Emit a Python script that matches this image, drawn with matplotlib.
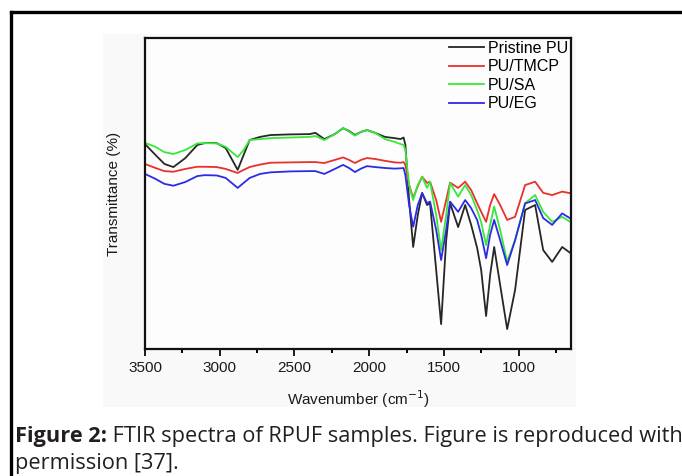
import matplotlib
matplotlib.use("Agg")
import matplotlib.pyplot as plt
from matplotlib.lines import Line2D
from matplotlib.patches import Rectangle
from matplotlib.ticker import MultipleLocator

# ---------------- data ----------------
wavenumber = [3500, 3430, 3370, 3310, 3230, 3150, 3100, 3020, 2960, 2880,
              2840, 2800, 2730, 2660, 2530, 2400, 2360, 2300, 2230, 2175,
              2135, 2095, 2055, 2015, 1960, 1895, 1830, 1790, 1770, 1758,
              1733, 1706, 1675, 1646, 1613, 1593, 1552, 1519, 1485, 1459,
              1405, 1358, 1318, 1278, 1251, 1218, 1191, 1164, 1124, 1077,
              1024, 957, 890, 836, 776, 709, 655]

pristine_pu = [65.9, 62.4, 59.5, 58.5, 61.4, 65.6, 66.2, 66.2, 64.6, 57.6,
               62.4, 67.2, 68.2, 68.8, 69.0, 69.1, 69.5, 67.5, 69.1, 71.0,
               70.1, 68.8, 69.8, 70.4, 69.5, 68.2, 67.8, 67.5, 68.0, 65.6,
               47.9, 32.8, 43.1, 50.2, 46.3, 46.9, 25.4, 8.0, 35.0, 46.9,
               39.2, 46.3, 39.9, 32.5, 25.4, 10.6, 23.8, 32.8, 20.6, 6.4,
               19.0, 44.7, 46.3, 31.8, 28.0, 32.8, 30.9]

pu_tmcp = [59.5, 58.2, 57.2, 57.0, 57.9, 58.6, 58.6, 58.5, 57.9, 56.6,
           57.6, 58.5, 59.3, 59.9, 60.0, 60.1, 60.1, 59.8, 60.8, 61.6,
           60.8, 59.8, 60.8, 61.4, 61.1, 60.5, 60.0, 59.9, 60.1, 59.2,
           52.7, 48.6, 52.4, 55.4, 53.4, 53.8, 47.9, 40.9, 47.9, 53.5,
           51.8, 53.8, 51.1, 46.9, 44.1, 40.9, 46.3, 49.8, 46.3, 41.5,
           42.5, 52.7, 53.8, 50.2, 49.5, 50.6, 50.1]

pu_sa = [66.3, 65.0, 63.3, 62.7, 64.0, 66.1, 66.2, 66.1, 65.0, 61.7,
         64.0, 67.2, 67.5, 67.8, 68.0, 68.2, 68.5, 67.2, 69.1, 71.1,
         69.9, 68.6, 69.8, 70.4, 69.5, 67.5, 66.6, 65.9, 65.6, 64.0,
         52.7, 47.9, 52.7, 55.4, 51.8, 53.8, 43.1, 31.8, 43.1, 53.4,
         49.0, 52.7, 49.5, 44.7, 40.8, 33.4, 39.9, 45.8, 38.3, 28.1,
         35.0, 46.9, 49.5, 44.1, 40.9, 42.5, 40.9]

pu_eg = [56.3, 54.7, 53.1, 52.5, 53.7, 55.6, 55.9, 55.8, 55.0, 51.8,
         53.4, 55.0, 56.3, 56.8, 57.1, 57.2, 57.2, 56.3, 57.9, 59.2,
         58.2, 56.9, 58.0, 58.8, 58.5, 58.2, 58.0, 58.1, 58.2, 55.9,
         46.3, 39.3, 46.3, 50.1, 46.9, 47.4, 38.3, 28.6, 38.3, 47.4,
         44.1, 47.9, 45.3, 41.5, 36.7, 29.2, 36.7, 41.5, 35.0, 27.0,
         35.0, 46.8, 47.9, 42.1, 39.9, 43.6, 42.0]

series_names = ["Pristine PU", "PU/TMCP", "PU/SA", "PU/EG"]
x_ticks = [3500, 3000, 2500, 2000, 1500, 1000]
x_label = "Wavenumber (cm$^{-1}$)"
y_label = "Transmittance (%)"
caption_bold = "Figure 2:"
caption_rest = " FTIR spectra of RPUF samples. Figure is reproduced with"
caption_line2 = "permission [37]."

# ---------------- figure ----------------
W, H = 682, 476
fig = plt.figure(figsize=(W / 100, H / 100), dpi=100)
fig.patch.set_facecolor("white")

# faint grey background of the embedded picture
fig.add_artist(Rectangle((103 / W, 1 - 407 / H), (576 - 103) / W, (407 - 34) / H,
                         transform=fig.transFigure, facecolor="#f9f9f9",
                         edgecolor="none", zorder=-5))

# outer frame (left and top lines)
fig.add_artist(Line2D([11 / W, 11 / W], [0, 1 - 12 / H], transform=fig.transFigure,
                      color="black", lw=2.4, solid_capstyle="projecting"))
fig.add_artist(Line2D([11 / W, 1.0], [1 - 12 / H, 1 - 12 / H], transform=fig.transFigure,
                      color="black", lw=2.4, solid_capstyle="projecting"))

ax = fig.add_axes([145 / W, 1 - 349 / H, (571 - 145) / W, (349 - 38) / H])
ax.set_zorder(2)
ax.set_facecolor("#fdfdfd")

colors = ["#262626", "#e8302c", "#38e838", "#2b2be6"]
for vals, name, c in zip([pristine_pu, pu_tmcp, pu_sa, pu_eg], series_names, colors):
    ax.plot(wavenumber, vals, color=c, lw=1.3, label=name)

ax.set_xlim(3500, 650)
ax.set_ylim(0, 100)
ax.set_xticks(x_ticks)
ax.xaxis.set_minor_locator(MultipleLocator(250))
ax.set_yticks([])

lab_font = ["Liberation Sans", "DejaVu Sans"]
for lbl in ax.get_xticklabels():
    lbl.set_fontfamily(lab_font)
    lbl.set_fontsize(11)
ax.tick_params(axis="x", which="major", direction="out", length=5, width=1.4,
               pad=4, colors="#1a1a1a")
ax.tick_params(axis="x", which="minor", direction="out", length=3, width=1.4)
for sp in ax.spines.values():
    sp.set_linewidth(1.6)
    sp.set_color("#111111")

ax.set_xlabel(x_label, fontsize=11, family=lab_font, labelpad=9, color="#1a1a1a")
ax.set_ylabel(y_label, fontsize=11, family=lab_font, labelpad=17, color="#1a1a1a")

leg = ax.legend(loc="upper right", frameon=False, prop={"family": lab_font, "size": 11.5},
                handlelength=2.2, handletextpad=0.25, labelspacing=0.22,
                borderaxespad=0.0, bbox_to_anchor=(1.009, 1.012))

# caption: scale font so that the first line spans the page width like the reference
cap_font = ["Open Sans", "DejaVu Sans"]
cap_color = "#231f20"
fig.canvas.draw()
renderer = fig.canvas.get_renderer()
base1 = 1 - 442 / H
base2 = 1 - 469 / H


def draw_caption(fs):
    a = fig.text(15 / W, base1, caption_bold, fontsize=fs, fontweight="bold",
                 family=cap_font, color=cap_color, va="baseline", ha="left")
    bb = a.get_window_extent(renderer)
    b = fig.text(bb.x1 / W, base1, caption_rest, fontsize=fs, family=cap_font,
                 color=cap_color, va="baseline", ha="left")
    return a, b


fs = 13.0
a, b = draw_caption(fs)
right = b.get_window_extent(renderer).x1
a.remove()
b.remove()
fs = fs * (678 - 15) / (right - 15)
draw_caption(fs)
fig.text(15 / W, base2, caption_line2, fontsize=fs, family=cap_font,
         color=cap_color, va="baseline", ha="left")

fig.savefig("out.png", dpi=100)
